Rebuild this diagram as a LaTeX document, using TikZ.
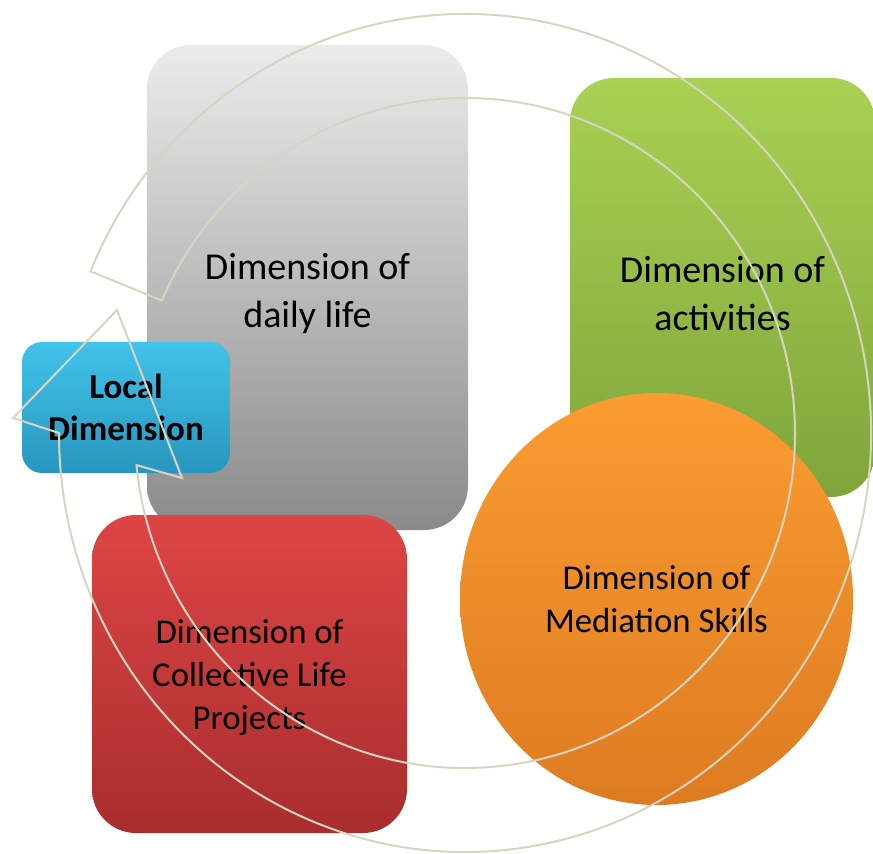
\documentclass[tikz,border=0pt]{standalone}
\usepackage{fontspec}
\setmainfont{Carlito}
\usetikzlibrary{shapes.geometric}
\tikzset{every picture/.style={line width=0.75pt}}

\definecolor{greyTop}{HTML}{EBEBEB}
\definecolor{greyBot}{HTML}{8A8A8A}
\definecolor{greenTop}{HTML}{A9D153}
\definecolor{greenBot}{HTML}{7FA53B}
\definecolor{blueTop}{HTML}{42C3EA}
\definecolor{blueBot}{HTML}{2896BE}
\definecolor{redTop}{HTML}{DE4545}
\definecolor{redBot}{HTML}{A92D2D}
\definecolor{orangeTop}{HTML}{FA9C31}
\definecolor{orangeBot}{HTML}{DE7B21}
\definecolor{ringline}{HTML}{D8D4C2}

\tikzset{
  dimbox/.style={rounded corners=22pt, align=center, inner sep=0pt, text=black,
    font=\fontsize{19}{24}\selectfont, text height=43pt},
  smallbox/.style={dimbox, font=\fontsize{17.4}{21.5}\selectfont, text height=58pt},
  localbox/.style={rounded corners=10pt, align=center, inner sep=0pt, text=black,
    font=\bfseries\fontsize{17.5}{21}\selectfont},
  ringarrow/.style={draw=ringline, line width=1pt, line join=miter}
}

\begin{document}
\begin{tikzpicture}[x=0.5pt,y=0.5pt]
\useasboundingbox (0,0) rectangle (873,853);
\node[dimbox, top color=greenTop, bottom color=greenBot, minimum width=152.5pt, minimum height=209.5pt] (activ) at (722.5,565.5) {Dimension of\\activities}; %緑
\node[dimbox, top color=greyTop, bottom color=greyBot, minimum width=160.5pt, minimum height=242.5pt] (daily) at (307.5,565.5) {Dimension of\\daily life}; %灰
\node[smallbox, top color=redTop, bottom color=redBot, minimum width=157.5pt, minimum height=159pt] (collect) at (249.5,179) {Dimension of\\Collective Life\\Projects}; %赤
\node[localbox, top color=blueTop, bottom color=blueBot, minimum width=104pt, minimum height=65.5pt] (local) at (126,445.5) {Local\\Dimension}; %青
\node[ellipse, align=center, inner sep=0pt, font=\fontsize{17.4}{21.5}\selectfont, top color=orangeTop, bottom color=orangeBot, minimum width=196.5pt, minimum height=206pt] (mediat) at (656.5,254) {Dimension of\\Mediation Skills}; %橙
\coordinate (c) at (465,420); %円の中心
\draw[ringarrow] (c) ++(157.3:406 and 419) arc[start angle=157.3, end angle=-180, x radius=406, y radius=419]
  -- (13,435) -- (117,543) -- (182,375) -- ([shift={(-174.5:330 and 335)}]c)
  arc[start angle=-174.5, end angle=156.7, x radius=330, y radius=335] -- cycle; %循環矢印
\end{tikzpicture}
\end{document}
